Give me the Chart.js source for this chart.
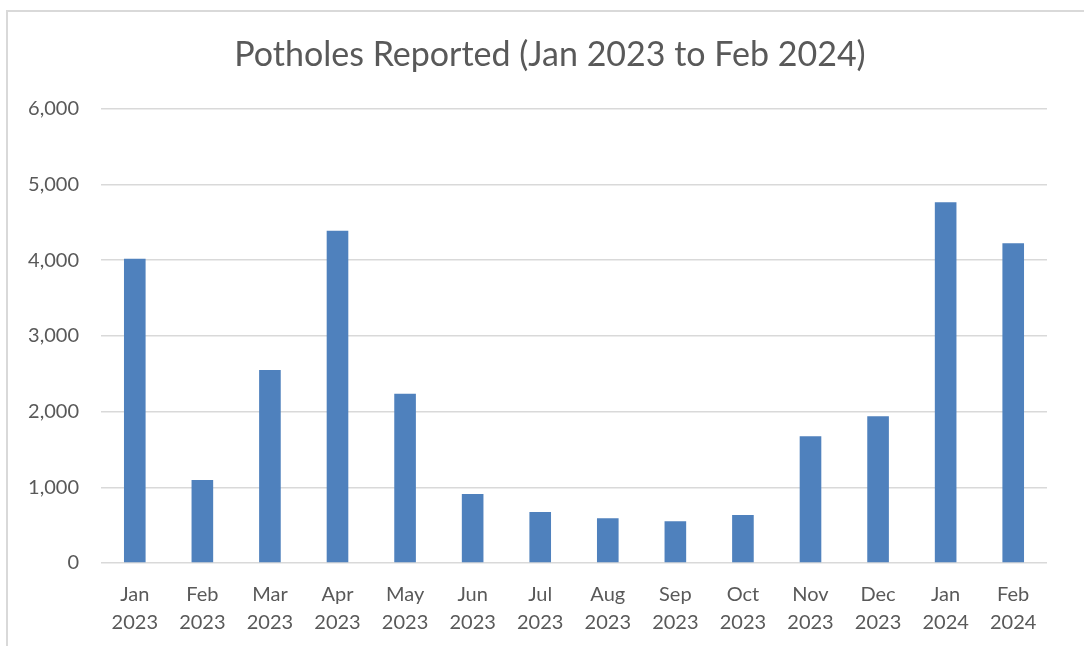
<!DOCTYPE html>
<html>
<head>
<meta charset="utf-8">
<script src="https://cdn.jsdelivr.net/npm/chart.js@4"></script>
<style>
  html, body { margin: 0; padding: 0; background: #fff; overflow: hidden; }
  #frame {
    position: absolute; left: 6px; top: 10px;
    width: 1200px; height: 800px;
    border: 2px solid #d9d9d9;
  }
  #wrap { position: absolute; left: 0; top: 0; width: 1100px; height: 646px; }
</style>
</head>
<body>
<div id="frame"></div>
<div id="wrap"><canvas id="potholeChart"></canvas></div>
<script>
const months = ['Jan', 'Feb', 'Mar', 'Apr', 'May', 'Jun', 'Jul', 'Aug', 'Sep', 'Oct', 'Nov', 'Dec', 'Jan', 'Feb'];
const years = ['2023', '2023', '2023', '2023', '2023', '2023', '2023', '2023', '2023', '2023', '2023', '2023', '2024', '2024'];
const potholes = [4020, 1095, 2550, 4390, 2235, 910, 675, 590, 550, 635, 1675, 1940, 4765, 4225];
const yTicks = [0, 1000, 2000, 3000, 4000, 5000, 6000];

const labels = months.map((m, i) => [m, years[i]]);
const textColor = '#595959';
const fontFamily = 'Lato, "Liberation Sans", sans-serif';

new Chart(document.getElementById('potholeChart'), {
  type: 'bar',
  data: {
    labels,
    datasets: [{
      label: 'Potholes',
      data: potholes,
      backgroundColor: '#4f81bd',
      barPercentage: 0.32,
      categoryPercentage: 1
    }]
  },
  options: {
    responsive: true,
    maintainAspectRatio: false,
    animation: false,
    layout: { padding: 0 },
    plugins: {
      legend: { display: false },
      tooltip: { enabled: false },
      title: {
        display: true,
        text: 'Potholes Reported (Jan 2023 to Feb 2024)',
        color: textColor,
        font: { family: fontFamily, size: 34, weight: 'normal' },
        padding: { top: 35, bottom: 33 }
      }
    },
    scales: {
      x: {
        grid: { display: false, drawTicks: false },
        border: { display: false },
        ticks: {
          color: textColor,
          font: { family: fontFamily, size: 20, lineHeight: 1.4 },
          padding: 18,
          maxRotation: 0,
          autoSkip: false
        },
        afterFit: (scale) => { scale.height = 83; }
      },
      y: {
        min: 0,
        max: 6000,
        afterBuildTicks: (scale) => { scale.ticks = yTicks.map((v) => ({ value: v })); },
        grid: { color: '#d9d9d9', lineWidth: 1.5, drawTicks: false },
        border: { display: false },
        ticks: {
          color: textColor,
          font: { family: fontFamily, size: 20 },
          padding: 22,
          callback: (v) => Number(v).toLocaleString('en-US')
        },
        afterFit: (scale) => { scale.width = 101; }
      },
      // empty right-hand axis: just reserves the space right of the plot
      spacer: {
        position: 'right',
        grid: { display: false, drawTicks: false },
        border: { display: false },
        ticks: { display: false },
        afterFit: (scale) => { scale.width = 53; }
      }
    }
  }
});
</script>
</body>
</html>
